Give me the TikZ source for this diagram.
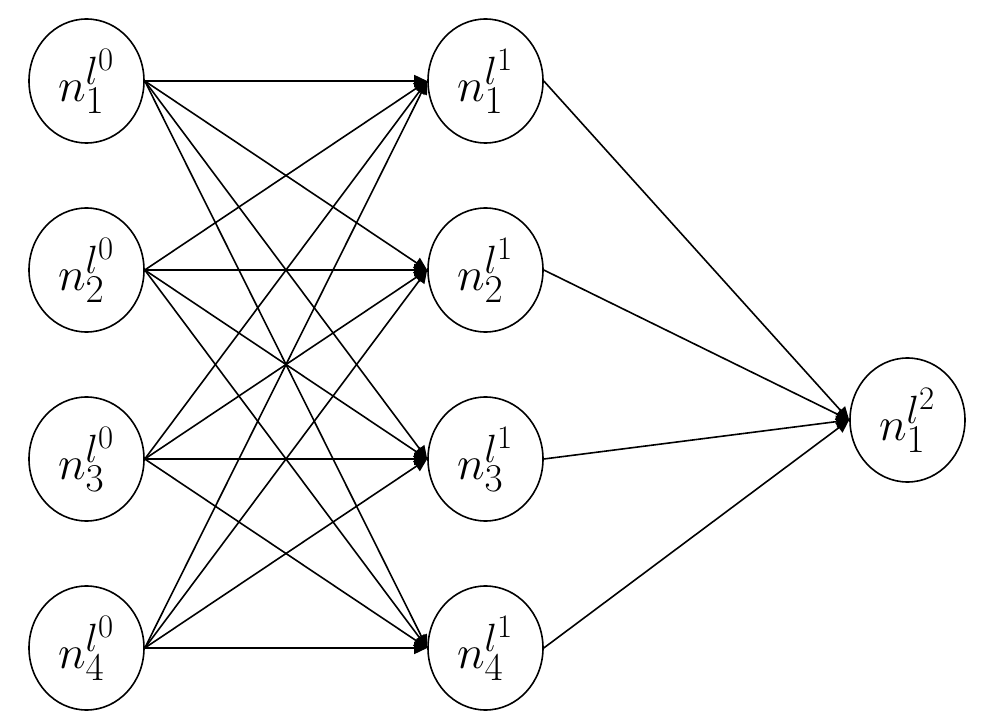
\documentclass[tikz,border=0pt]{standalone}
\usetikzlibrary{arrows.meta,shapes.geometric}
\newcommand{\lbl}[1]{\scalebox{1.9}{\Huge$#1$}}
\begin{document}
\begin{tikzpicture}[x=1pt,y=-1pt,
  neuron/.style={draw, ellipse, line width=1.6pt, minimum width=115pt, minimum height=124pt, inner sep=0pt},
  link/.style={line width=1.6pt, -{Triangle[length=13pt,width=12pt]}}]
\useasboundingbox (0,0) rectangle (997,727);
\foreach \i/\y in {1/81,2/270,3/459,4/648}{
  \node[neuron] (a\i) at (86.5,\y) {\lbl{n_{\i}^{l^0}}};
  \node[neuron] (b\i) at (485.5,\y) {\lbl{n_{\i}^{l^1}}};
}
\node[neuron] (c1) at (907.5,420) {\lbl{n_{1}^{l^2}}};
\foreach \i in {1,...,4}{
  \foreach \j in {1,...,4}{
    \draw[link] (a\i.east) -- (b\j.west);
  }
  \draw[link] (b\i.east) -- (c1.west);
}
\end{tikzpicture}
\end{document}
